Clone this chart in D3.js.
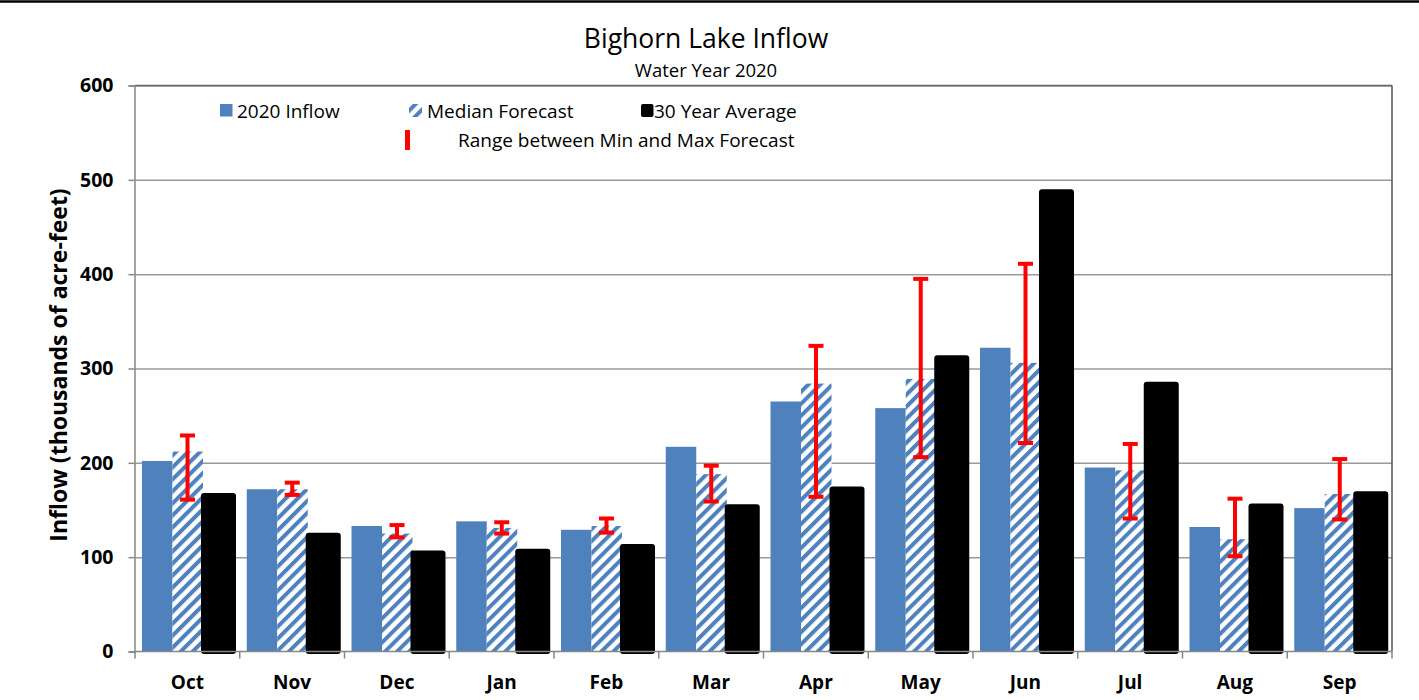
<!DOCTYPE html>
<html><head><meta charset="utf-8">
<script src="https://cdn.jsdelivr.net/npm/d3@7/dist/d3.min.js"></script>
<style>
html,body{margin:0;padding:0;background:#fff;}
svg{display:block;font-family:"Open Sans","Noto Sans",sans-serif;}
</style></head>
<body>
<svg id="chart" width="1419" height="700"></svg>
<script>
const months = ["Oct","Nov","Dec","Jan","Feb","Mar","Apr","May","Jun","Jul","Aug","Sep"];
const inflow2020 = [202,172,133,138,129,217,265,258,322,195,132,152];
const medianForecast = [212,172,125,131,133,188,284,289,306,192,119,167];
const avg30 = [168,126,107,109,114,156,175,314,490,286,157,170];
const forecastMin = [161,166,121,125,126,159,164,206,221,141,101,140];
const forecastMax = [229,179,134,137,141,197,324,395,411,220,162,204];
const yTicks = [0,100,200,300,400,500,600];
const seriesNames = ["2020 Inflow","Median Forecast","30 Year Average","Range between Min and Max Forecast"];
const titleText = "Bighorn Lake Inflow";
const subtitleText = "Water Year 2020";
const yTitle = "Inflow (thousands of acre-feet)";

const BLUE = "#4F81BD", RED = "#FF0000", GRID = "#9a9a9a", AXIS = "#868686";
const svg = d3.select("#chart");
const L = 135, R = 1392, T = 85.5, B = 651.5;

const x = d3.scaleBand().domain(months).range([L, R]).padding(0);
const y = d3.scaleLinear().domain([0, 600]).range([B, T]);
const bw = x.bandwidth();
const f = v => v * bw / 104.75;

// top black rule
svg.append("line").attr("x1",0).attr("x2",1419).attr("y1",1.5).attr("y2",1.5)
  .attr("stroke","#000").attr("stroke-width",2.5);

// hatch pattern
const defs = svg.append("defs");
const pat = defs.append("pattern").attr("id","hatch").attr("patternUnits","userSpaceOnUse")
  .attr("width",8.5).attr("height",8.5).attr("patternTransform","rotate(45)");
pat.append("rect").attr("width",8.5).attr("height",8.5).attr("fill","#fff");
pat.append("rect").attr("x",0).attr("width",4).attr("height",8.5).attr("fill",BLUE);

// titles
svg.append("text").attr("x",706).attr("y",48).attr("text-anchor","middle")
  .attr("font-size",26.5).attr("fill","#000").text(titleText);
svg.append("text").attr("x",706).attr("y",77).attr("text-anchor","middle")
  .attr("font-size",18.5).attr("fill","#000").text(subtitleText);

// gridlines
svg.append("g").attr("transform",`translate(${L},0)`)
  .call(d3.axisLeft(y).tickValues(yTicks.filter(d=>d>0)).tickSize(-(R-L)).tickFormat(""))
  .call(g=>g.select(".domain").remove())
  .call(g=>g.selectAll("line").attr("stroke",GRID).attr("stroke-width",1.5));

// frame right / top
svg.append("line").attr("x1",R).attr("x2",R).attr("y1",T).attr("y2",B).attr("stroke","#555").attr("stroke-width",1.5);
svg.append("line").attr("x1",L).attr("x2",R).attr("y1",T).attr("y2",T).attr("stroke","#666").attr("stroke-width",1.5);

// bars
const gBars = svg.append("g");
months.forEach((m,i)=>{
  const x0 = x(m);
  gBars.append("rect").attr("x",x0+f(7)).attr("y",y(inflow2020[i]))
    .attr("width",f(30.5)).attr("height",B-y(inflow2020[i])).attr("fill",BLUE);
  gBars.append("rect").attr("x",x0+f(37.5)).attr("y",y(medianForecast[i]))
    .attr("width",f(30.5)).attr("height",B-y(medianForecast[i])).attr("fill","url(#hatch)");
  gBars.append("rect").attr("x",x0+f(66)).attr("y",y(avg30[i]))
    .attr("width",f(35)).attr("height",B-y(avg30[i])+2.5).attr("rx",3).attr("ry",3)
    .attr("fill","#000");
});

// error bars
const gErr = svg.append("g").attr("stroke",RED).attr("stroke-width",4);
months.forEach((m,i)=>{
  const cx = x(m)+f(52.5);
  gErr.append("line").attr("x1",cx).attr("x2",cx).attr("y1",y(forecastMin[i])).attr("y2",y(forecastMax[i]));
  [forecastMin[i],forecastMax[i]].forEach(v=>{
    gErr.append("line").attr("x1",cx-7.5).attr("x2",cx+7.5).attr("y1",y(v)).attr("y2",y(v));
  });
});

// y axis
const ya = svg.append("g").attr("transform",`translate(${L-0.5},0)`)
  .call(d3.axisLeft(y).tickValues(yTicks).tickSize(6).tickPadding(15));
ya.select(".domain").attr("stroke",AXIS).attr("stroke-width",1.5);
ya.selectAll(".tick line").attr("stroke",AXIS).attr("stroke-width",1.5);
ya.selectAll("text").attr("font-size",19.5).attr("font-weight","bold").attr("fill","#000")
  .attr("font-family","'Open Sans',sans-serif");

// x axis
svg.append("line").attr("x1",L-0.5).attr("x2",R).attr("y1",B).attr("y2",B).attr("stroke",AXIS).attr("stroke-width",1.5);
const bounds = months.map(m=>x(m)).concat([R]);
svg.append("g").selectAll("line").data(bounds).join("line")
  .attr("x1",d=>d).attr("x2",d=>d).attr("y1",B).attr("y2",B+7).attr("stroke",AXIS).attr("stroke-width",1.5);
const xa = svg.append("g").attr("transform",`translate(0,${B})`)
  .call(d3.axisBottom(x).tickSize(0).tickPadding(24));
xa.select(".domain").remove();
xa.selectAll("text").attr("font-size",19).attr("font-weight","bold").attr("fill","#000")
  .attr("font-family","'Open Sans',sans-serif");

// y title
svg.append("text").attr("transform","translate(67,365) rotate(-90)").attr("text-anchor","middle")
  .attr("font-size",23).attr("font-weight","bold").text(yTitle);

// legend
const lg = svg.append("g").attr("font-size",19).attr("fill","#000");
lg.append("rect").attr("x",220).attr("y",104).attr("width",12.5).attr("height",12.5).attr("fill",BLUE);
lg.append("text").attr("x",237).attr("y",118).text(seriesNames[0]);
lg.append("rect").attr("x",409).attr("y",104).attr("width",13).attr("height",13).attr("fill","url(#hatch)");
lg.append("text").attr("x",427).attr("y",118).text(seriesNames[1]);
lg.append("rect").attr("x",641).attr("y",104).attr("width",12.5).attr("height",13).attr("rx",2).attr("fill","#000");
lg.append("text").attr("x",654).attr("y",118).text(seriesNames[2]);
lg.append("rect").attr("x",405).attr("y",130).attr("width",5).attr("height",20).attr("fill",RED);
lg.append("text").attr("x",458).attr("y",147).text(seriesNames[3]);
</script>
</body></html>
